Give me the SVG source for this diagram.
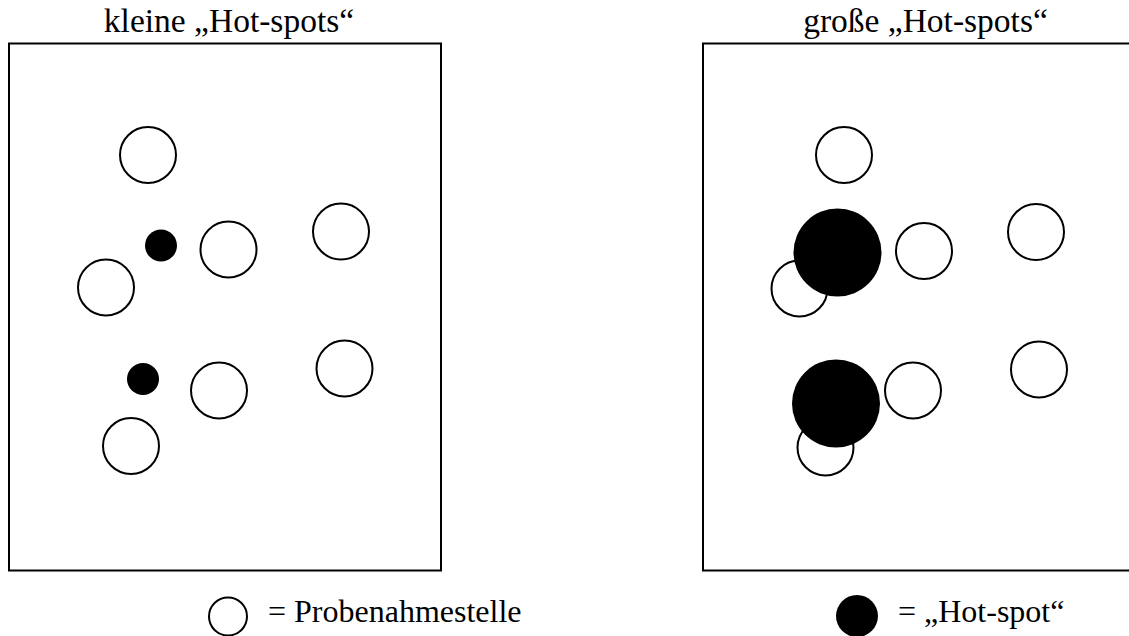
<svg xmlns="http://www.w3.org/2000/svg" width="1129" height="636" viewBox="0 0 1129 636">
  <style>
    .frame { fill: none; stroke: #000; stroke-width: 2; }
    .site { fill: #fff; stroke: #000; stroke-width: 2; }
    .hot { fill: #000; stroke: none; }
    .label { font-family: 'Liberation Serif', 'Times New Roman', Times, serif; fill: #000; }
    .title { font-size: 33.5px; }
    .key { font-size: 32px; }
  </style>
  <rect width="1129" height="636" fill="#fff"/>

  <!-- left panel: small hot spots -->
  <g id="panel-small">
    <text class="label title" x="229" y="32" text-anchor="middle">kleine „Hot-spots“</text>
    <rect class="frame" x="9" y="43.5" width="432" height="527"/>
    <circle class="site" cx="148" cy="155" r="28"/>
    <circle class="hot" cx="161" cy="245.5" r="16"/>
    <circle class="site" cx="228.5" cy="249.5" r="28"/>
    <circle class="site" cx="341" cy="231.5" r="28"/>
    <circle class="site" cx="106" cy="287.5" r="28"/>
    <circle class="hot" cx="143" cy="379" r="16"/>
    <circle class="site" cx="219" cy="390.5" r="28"/>
    <circle class="site" cx="344.5" cy="368.5" r="28"/>
    <circle class="site" cx="131" cy="446" r="28"/>
  </g>

  <!-- right panel: large hot spots -->
  <g id="panel-large">
    <text class="label title" x="925.5" y="32" text-anchor="middle">große „Hot-spots“</text>
    <rect class="frame" x="703" y="43.5" width="430" height="527"/>
    <circle class="site" cx="844" cy="155" r="28"/>
    <circle class="site" cx="799.5" cy="288.5" r="28"/>
    <circle class="hot" cx="837.5" cy="252.5" r="44"/>
    <circle class="site" cx="924" cy="251" r="28"/>
    <circle class="site" cx="1036" cy="232" r="28"/>
    <circle class="site" cx="825.5" cy="447.5" r="28"/>
    <circle class="hot" cx="836" cy="403.5" r="44"/>
    <circle class="site" cx="913" cy="390.5" r="28"/>
    <circle class="site" cx="1039" cy="369.5" r="28"/>
  </g>

  <!-- legend -->
  <g id="legend-site">
    <circle class="site" cx="228" cy="616.5" r="19"/>
    <text class="label key" x="268" y="622">= Probenahmestelle</text>
  </g>
  <g id="legend-hot">
    <circle class="hot" cx="857" cy="616" r="21"/>
    <text class="label key" x="898" y="622">= „Hot-spot“</text>
  </g>

  <g id="connectors"/>
</svg>
